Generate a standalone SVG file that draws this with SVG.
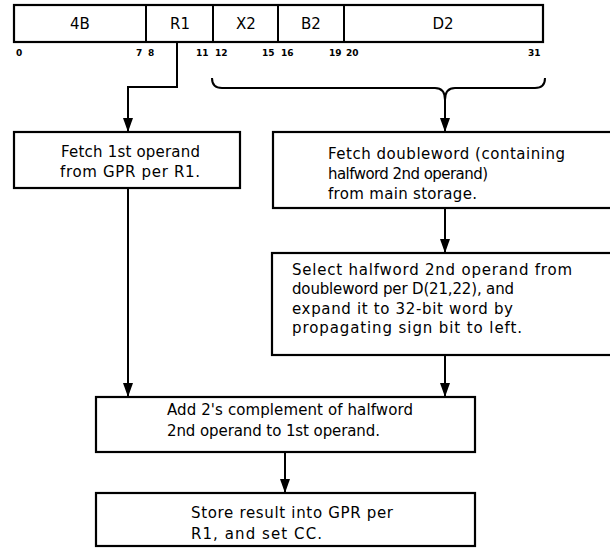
<svg xmlns="http://www.w3.org/2000/svg" width="610" height="548" viewBox="0 0 610 548">
  <style>
    .box { fill: #fff; stroke: #000; stroke-width: 2.2; }
    .ln { fill: none; stroke: #000; stroke-width: 2; }
    .t { font-family: "DejaVu Sans", "Liberation Sans", sans-serif; font-size: 15px; fill: #000; }
    .f { font-family: "DejaVu Sans", "Liberation Sans", sans-serif; font-size: 15px; fill: #000; text-anchor: middle; }
    .n { font-family: "DejaVu Sans", "Liberation Sans", sans-serif; font-size: 9px; font-weight: bold; fill: #000; }
  </style>
  <defs>
    <!-- filled arrowhead, drawn along +x so orient="auto" follows the line -->
    <marker id="arr" viewBox="0 0 14 10" refX="14" refY="5" markerWidth="14" markerHeight="10" markerUnits="userSpaceOnUse" orient="auto">
      <path d="M0 0 L14 5 L0 10 Z" fill="#000"/>
    </marker>
  </defs>
  <rect width="610" height="548" fill="#fff"/>

  <!-- instruction format -->
  <g id="format">
    <rect class="box" x="14" y="5" width="529" height="37"/>
    <line class="ln" x1="146" y1="5" x2="146" y2="42"/>
    <line class="ln" x1="213" y1="5" x2="213" y2="42"/>
    <line class="ln" x1="278" y1="5" x2="278" y2="42"/>
    <line class="ln" x1="344" y1="5" x2="344" y2="42"/>
    <text class="f" x="80" y="29">4B</text>
    <text class="f" x="180" y="29">R1</text>
    <text class="f" x="246" y="29">X2</text>
    <text class="f" x="311" y="29">B2</text>
    <text class="f" x="443" y="29">D2</text>
    <text class="n" x="16" y="56">0</text>
    <text class="n" x="136" y="56">7</text>
    <text class="n" x="148" y="56">8</text>
    <text class="n" x="196" y="56">11</text>
    <text class="n" x="215" y="56">12</text>
    <text class="n" x="262" y="56">15</text>
    <text class="n" x="281" y="56">16</text>
    <text class="n" x="329" y="56">19</text>
    <text class="n" x="346" y="56">20</text>
    <text class="n" x="528" y="56">31</text>
  </g>

  <!-- connectors -->
  <g id="connectors">
    <path class="ln" d="M177 42 V87 H128 V132" marker-end="url(#arr)"/>
    <path class="ln" d="M212 78 Q212 88 222 88 H435 Q445 88 445 100 Q445 88 455 88 H535 Q545 88 545 78"/>
    <path class="ln" d="M445 100 V132" marker-end="url(#arr)"/>
    <path class="ln" d="M445 208 V253" marker-end="url(#arr)"/>
    <path class="ln" d="M128 188 V397" marker-end="url(#arr)"/>
    <path class="ln" d="M445 355 V397" marker-end="url(#arr)"/>
    <path class="ln" d="M285 452 V493" marker-end="url(#arr)"/>
  </g>

  <g id="fetch1">
    <rect class="box" x="14" y="132" width="226" height="56"/>
    <text class="t" x="61" y="157" textLength="139">Fetch 1st operand</text>
    <text class="t" x="60" y="177" textLength="140">from GPR per R1.</text>
  </g>

  <g id="fetch2">
    <rect class="box" x="273" y="132" width="340" height="76"/>
    <text class="t" x="328" y="159" textLength="237">Fetch doubleword (containing</text>
    <text class="t" x="328" y="179" textLength="160">halfword 2nd operand)</text>
    <text class="t" x="328" y="199" textLength="149">from main storage.</text>
  </g>

  <g id="select">
    <rect class="box" x="272" y="253" width="341" height="102"/>
    <text class="t" x="292" y="275" textLength="280">Select halfword 2nd operand from</text>
    <text class="t" x="292" y="294" textLength="222">doubleword per D(21,22), and</text>
    <text class="t" x="292" y="314" textLength="221">expand it to 32-bit word by</text>
    <text class="t" x="292" y="333" textLength="230">propagating sign bit to left.</text>
  </g>

  <g id="add">
    <rect class="box" x="96" y="397" width="379" height="55"/>
    <text class="t" x="167" y="415" textLength="246">Add 2's complement of halfword</text>
    <text class="t" x="167" y="436" textLength="213">2nd operand to 1st operand.</text>
  </g>

  <g id="store">
    <rect class="box" x="96" y="493" width="379" height="53"/>
    <text class="t" x="191" y="518" textLength="202">Store result into GPR per</text>
    <text class="t" x="191" y="539" textLength="131">R1, and set CC.</text>
  </g>
</svg>
